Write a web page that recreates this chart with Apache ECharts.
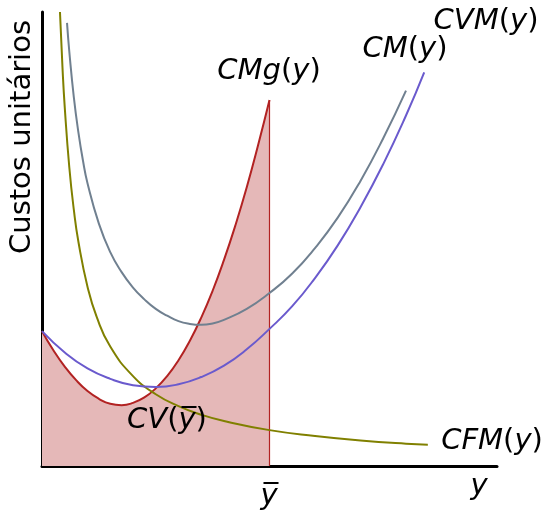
<!DOCTYPE html>
<html><head><meta charset="utf-8">
<script src="https://cdn.jsdelivr.net/npm/echarts@6/dist/echarts.min.js"></script>
<style>html,body{margin:0;padding:0;background:#fff}#c{width:545px;height:511px}</style>
</head><body><div id="c"></div>
<script>
// Marginal cost CMg(y)
const cmg = [[0,2.97],[0.25,2.55],[0.5,2.19],[0.75,1.89],[1.0,1.65],[1.25,1.48],[1.5,1.37],[1.75,1.34],[2.0,1.39],[2.25,1.51],[2.5,1.71],[2.75,1.98],[3.0,2.33],[3.25,2.76],[3.5,3.27],[3.75,3.86],[4.0,4.54],[4.25,5.30],[4.5,6.14],[4.75,7.07],[5.0,8.06]];
// Average total cost CM(y)
const cm = [[0.55,9.76],[0.6,9.13],[0.7,8.12],[0.8,7.35],[0.9,6.73],[1.0,6.23],[1.25,5.34],[1.5,4.71],[1.75,4.27],[2.0,3.93],[2.25,3.67],[2.5,3.46],[2.75,3.31],[3.0,3.19],[3.25,3.13],[3.5,3.11],[3.75,3.14],[4.0,3.22],[4.5,3.46],[5.0,3.81],[5.5,4.24],[6.0,4.80],[6.5,5.47],[7.0,6.28],[7.5,7.22],[8.0,8.27]];
// Average variable cost CVM(y)
const cvm = [[0,2.97],[0.5,2.50],[1.0,2.15],[1.5,1.92],[2.0,1.78],[2.5,1.74],[3.0,1.80],[3.5,1.96],[4.0,2.21],[4.5,2.57],[5.0,3.02],[5.5,3.52],[6.0,4.14],[6.5,4.86],[7.0,5.70],[7.5,6.65],[8.0,7.72],[8.4,8.67]];
// Average fixed cost CFM(y)
const cfm = [[0.395,10.0],[0.45,8.78],[0.5,7.9],[0.6,6.58],[0.7,5.64],[0.8,4.94],[1.0,3.95],[1.2,3.29],[1.5,2.63],[2.0,1.98],[2.5,1.58],[3.0,1.32],[3.5,1.13],[4.0,0.99],[5.0,0.79],[6.0,0.66],[7.0,0.56],[8.0,0.49],[8.48,0.47]];
// Chosen output level ybar and CMg there
const yBar = 5.00;
const cmgAtYBar = 8.06;

const chart = echarts.init(document.getElementById('c'), null, {renderer:'canvas'});
const axisCommon = {
  type:'value', min:0, max:10,
  axisLine:{show:true, onZero:false, lineStyle:{color:'#000', width:3}},
  axisTick:{show:false}, axisLabel:{show:false}, splitLine:{show:false}
};
const FS = 29;
const rich = {
  i:{fontFamily:'DejaVu Sans', fontStyle:'italic', fontSize:FS, color:'#000'},
  n:{fontFamily:'DejaVu Sans', fontStyle:'normal', fontSize:FS, color:'#000'}
};
const mathText = (txt, x, y) => ({
  type:'text', x:x, y:y, z:100,
  style:{text:txt, rich:rich, fontFamily:'DejaVu Sans', fontSize:FS, fill:'#000', textAlign:'center', textVerticalAlign:'middle'}
});
chart.setOption({
  animation:false,
  backgroundColor:'#fff',
  grid:{left:42, right:48, top:12, bottom:45, containLabel:false},
  xAxis: axisCommon,
  yAxis: axisCommon,
  series:[
    {type:'line', name:'CMg', data:cmg, smooth:0.5, showSymbol:false, z:2,
     lineStyle:{color:'#b22222', width:2},
     areaStyle:{color:'#e5b8b8', opacity:1, origin:'start'}},
    {type:'line', name:'ybar', data:[[yBar,0],[yBar,cmgAtYBar]], showSymbol:false, z:2,
     lineStyle:{color:'#b22222', width:1.2}},
    {type:'line', name:'CFM', data:cfm, smooth:0.5, showSymbol:false, z:3,
     lineStyle:{color:'#808000', width:2}},
    {type:'line', name:'CVM', data:cvm, smooth:0.5, showSymbol:false, z:3,
     lineStyle:{color:'#6a5acd', width:2}},
    {type:'line', name:'CM', data:cm, smooth:0.5, showSymbol:false, z:3,
     lineStyle:{color:'#708090', width:2}}
  ],
  graphic:[
    {type:'text', x:22.5, y:137, rotation:Math.PI/2, z:100,
     style:{text:'Custos unitários', fontFamily:'DejaVu Sans', fontSize:FS, fill:'#000', textAlign:'center', textVerticalAlign:'middle'}},
    mathText('{i|CMg}{n|(}{i|y}{n|)}', 269, 71),
    mathText('{i|CM}{n|(}{i|y}{n|)}', 405, 49),
    mathText('{i|CVM}{n|(}{i|y}{n|)}', 486, 21),
    mathText('{i|CFM}{n|(}{i|y}{n|)}', 492, 441),
    mathText('{i|CV}{n|(}{i|y\u0305}{n|)}', 167, 420),
    mathText('{i|y}', 479, 486),
    mathText('{i|y\u0305}', 269, 496)
  ]
});
</script></body></html>
